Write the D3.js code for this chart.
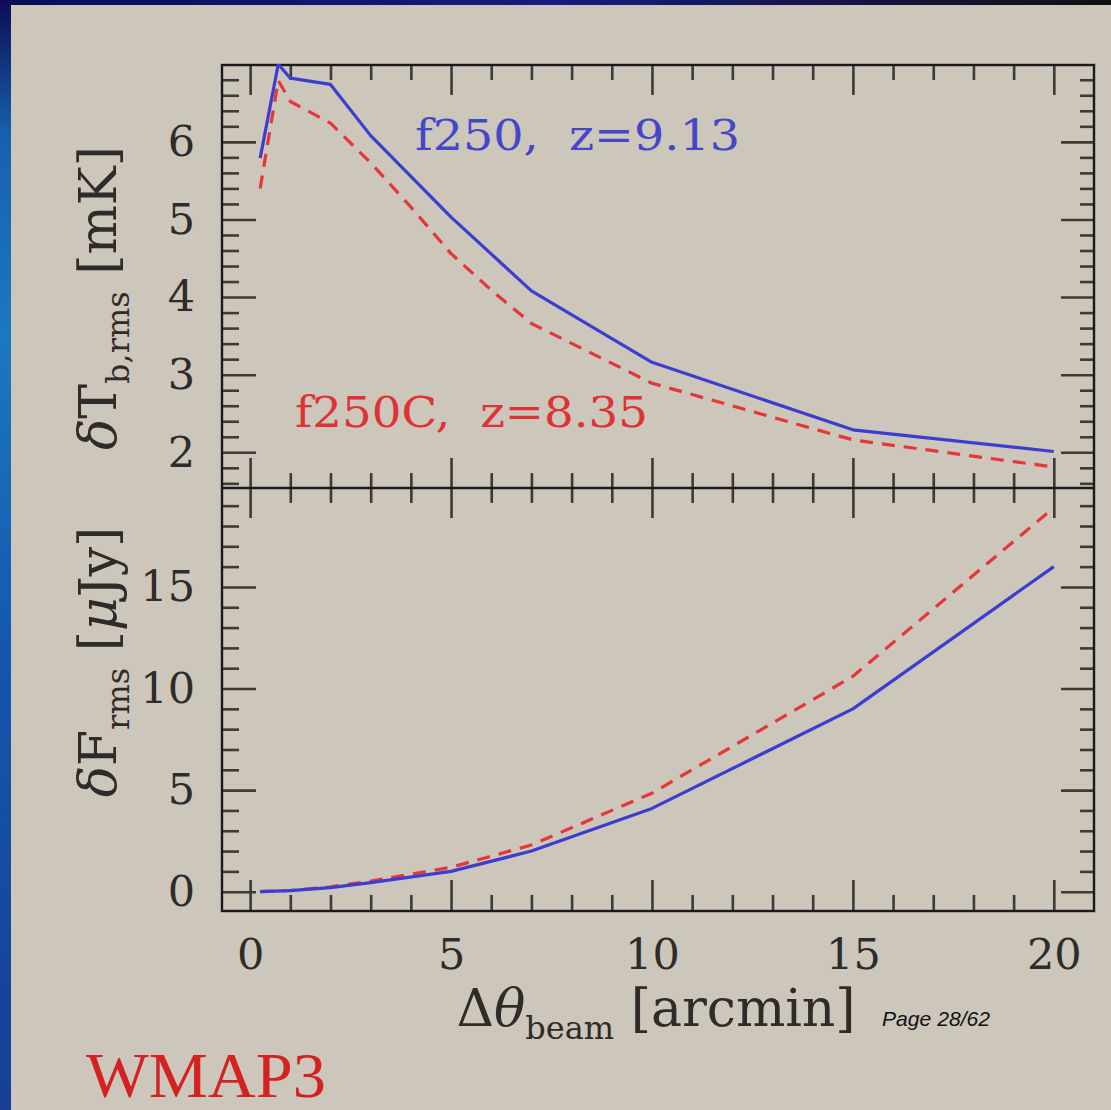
<!DOCTYPE html>
<html><head><meta charset="utf-8">
<script src="https://cdn.jsdelivr.net/npm/d3@7"></script>
<style>html,body{margin:0;padding:0;background:#ccc6bb;overflow:hidden}</style>
</head><body><svg id="c" width="1111" height="1110"></svg>
<script>
// ---------- data ----------
const xTopBlue   = [0.25, 0.7, 1, 2, 3, 5, 7, 10, 15, 20];
const tbF250     = [5.79, 7.0, 6.82, 6.74, 6.08, 5.03, 4.08, 3.16, 2.29, 2.01];
const xTopRed    = [0.25, 0.7, 1, 2, 3, 4, 5, 6, 7, 10, 15, 20];
const tbF250C    = [5.40, 6.79, 6.52, 6.24, 5.73, 5.16, 4.56, 4.09, 3.66, 2.89, 2.16, 1.81];
const xBottom    = [0.25, 1, 2, 3, 5, 7, 10, 15, 20];
const fF250      = [0.0, 0.05, 0.2, 0.45, 1.0, 2.0, 4.1, 9.0, 16.0];
const fF250C     = [0.0, 0.06, 0.24, 0.52, 1.2, 2.3, 4.85, 10.6, 18.9];
const xMajorTicks = [0, 5, 10, 15, 20];
const yTopMajorTicks = [2, 3, 4, 5, 6];
const yBotMajorTicks = [0, 5, 10, 15];
const labelBlue = "f250,  z=9.13";
const labelRed  = "f250C,  z=8.35";

// ---------- layout ----------
const W = 1111, H = 1110;
const L = 222, R = 1094, T = 65, M = 488, B = 911;
const svg = d3.select("#c");
const defs = svg.append("defs");

svg.append("rect").attr("width", W).attr("height", H).attr("fill", "#ccc6bb");
const gl = defs.append("linearGradient").attr("id", "gl").attr("x1", 0).attr("y1", 0).attr("x2", 0).attr("y2", 1);
[["0", "#0c0c55"], ["0.12", "#1760ad"], ["0.3", "#1a78c0"], ["0.6", "#1456aa"], ["1", "#163f95"]]
  .forEach(([o, c]) => gl.append("stop").attr("offset", o).attr("stop-color", c));
svg.append("rect").attr("x", 0).attr("y", 0).attr("width", 11).attr("height", H).attr("fill", "url(#gl)");
const gt = defs.append("linearGradient").attr("id", "gt");
[["0", "#0c0c55"], ["0.5", "#1a1a80"], ["1", "#111"]]
  .forEach(([o, c]) => gt.append("stop").attr("offset", o).attr("stop-color", c));
svg.append("rect").attr("x", 0).attr("y", 0).attr("width", W).attr("height", 5).attr("fill", "url(#gt)");

const x  = d3.scaleLinear().domain([-0.7, 21.0]).range([L, R]);
const yT = d3.scaleLinear().domain([1.54, 6.99]).range([M, T]);
const yB = d3.scaleLinear().domain([-0.95, 19.87]).range([B, M]);

const xMinor = d3.range(1, 21).filter(v => v % 5 !== 0);
const yTMinor = d3.range(8, 35).filter(i => i % 5 !== 0).map(i => i / 5);
const yBMinor = d3.range(1, 20).filter(v => v % 5 !== 0);

function ax(gen, scale, vals, size, tr, labels, pad) {
  const a = gen(scale).tickValues(vals).tickSize(size).tickPadding(pad || 0)
    .tickFormat(labels ? d3.format("d") : "");
  const g = svg.append("g").attr("transform", tr).call(a);
  g.select(".domain").remove();
  g.selectAll(".tick line").attr("stroke", "#3d3a38").attr("stroke-width", 2.6);
  g.selectAll("text").attr("font-family", "DejaVu Serif").attr("font-size", 43).attr("fill", "#2e2b29");
  return g;
}
// top panel
ax(d3.axisLeft, yT, yTopMajorTicks, -34, `translate(${L},0)`, true, 27);
ax(d3.axisLeft, yT, yTMinor, -17, `translate(${L},0)`);
ax(d3.axisRight, yT, yTopMajorTicks, -33, `translate(${R},0)`);
ax(d3.axisRight, yT, yTMinor, -14, `translate(${R},0)`);
ax(d3.axisTop, x, xMajorTicks, -30, `translate(0,${T})`);
ax(d3.axisTop, x, xMinor, -15, `translate(0,${T})`);
ax(d3.axisBottom, x, xMajorTicks, -30, `translate(0,${M})`);
ax(d3.axisBottom, x, xMinor, -15, `translate(0,${M})`);
// bottom panel
ax(d3.axisLeft, yB, yBotMajorTicks, -34, `translate(${L},0)`, true, 27);
ax(d3.axisLeft, yB, yBMinor, -17, `translate(${L},0)`);
ax(d3.axisRight, yB, yBotMajorTicks, -33, `translate(${R},0)`);
ax(d3.axisRight, yB, yBMinor, -14, `translate(${R},0)`);
ax(d3.axisTop, x, xMajorTicks, -30, `translate(0,${M})`);
ax(d3.axisTop, x, xMinor, -15, `translate(0,${M})`);
ax(d3.axisBottom, x, xMajorTicks, -31, `translate(0,${B})`, true, 27);
ax(d3.axisBottom, x, xMinor, -16, `translate(0,${B})`);

// frame
svg.append("rect").attr("x", L).attr("y", T).attr("width", R - L).attr("height", B - T)
  .attr("fill", "none").attr("stroke", "#1c1a1a").attr("stroke-width", 2.4);
svg.append("line").attr("x1", L).attr("x2", R).attr("y1", M).attr("y2", M)
  .attr("stroke", "#1c1a1a").attr("stroke-width", 2.4);

// clips
defs.append("clipPath").attr("id", "cpT").append("rect").attr("x", L).attr("y", T - 1).attr("width", R - L).attr("height", M - T);
defs.append("clipPath").attr("id", "cpB").append("rect").attr("x", L).attr("y", M).attr("width", R - L).attr("height", B - M);

const blue = "#3d3dd0", red = "#e5363a";
function curve(xs, ys, ysc, clip, color, dash) {
  const line = d3.line().x((d, i) => x(xs[i])).y(d => ysc(d));
  const p = svg.append("path").datum(ys).attr("d", line).attr("clip-path", `url(#${clip})`)
    .attr("fill", "none").attr("stroke", color).attr("stroke-width", 3.2)
    .attr("stroke-linejoin", "round");
  if (dash) p.attr("stroke-dasharray", "13,9");
}
curve(xTopRed, tbF250C, yT, "cpT", red, true);
curve(xTopBlue, tbF250, yT, "cpT", blue, false);
curve(xBottom, fF250C, yB, "cpB", red, true);
curve(xBottom, fF250, yB, "cpB", blue, false);

// annotations
svg.append("text").attr("x", 415).attr("y", 150).attr("font-family", "DejaVu Serif").attr("font-size", 43)
  .attr("fill", "#4646c8").attr("textLength", 325).attr("lengthAdjust", "spacingAndGlyphs")
  .style("white-space", "pre").text(labelBlue);
svg.append("text").attr("x", 295).attr("y", 427).attr("font-family", "DejaVu Serif").attr("font-size", 42)
  .attr("fill", "#de3236").attr("textLength", 353).attr("lengthAdjust", "spacingAndGlyphs")
  .style("white-space", "pre").text(labelRed);

// axis titles
function title(tr, parts) {
  const t = svg.append("text").attr("transform", tr).attr("text-anchor", "middle")
    .attr("font-family", "DejaVu Serif").attr("font-size", 52).attr("fill", "#2e2b29")
    .style("white-space", "pre");
  parts.forEach(p => {
    const s = t.append("tspan").text(p.t);
    if (p.it) s.attr("font-style", "italic");
    if (p.sub) s.attr("font-size", 32).attr("dy", 13);
    if (p.up) s.attr("dy", -13);
  });
}
title("translate(116,298) rotate(-90)", [{t: "δ", it: 1}, {t: "T"}, {t: "b,rms", sub: 1}, {t: " [mK]", up: 1}]);
title("translate(116,662) rotate(-90)", [{t: "δ", it: 1}, {t: "F"}, {t: "rms", sub: 1}, {t: " [", up: 1}, {t: "μ", it: 1}, {t: "Jy]"}]);
title("translate(656,1026)", [{t: "Δ"}, {t: "θ", it: 1}, {t: "beam", sub: 1}, {t: " [arcmin]", up: 1}]);

svg.append("text").attr("x", 882).attr("y", 1026).attr("font-family", "Liberation Sans").attr("font-style", "italic")
  .attr("font-size", 21).attr("fill", "#111").attr("textLength", 108).attr("lengthAdjust", "spacingAndGlyphs")
  .text("Page 28/62");
svg.append("text").attr("x", 86).attr("y", 1097).attr("font-family", "Liberation Serif").attr("font-size", 64)
  .attr("fill", "#d42222").attr("textLength", 240).attr("lengthAdjust", "spacingAndGlyphs").text("WMAP3");
</script></body></html>
